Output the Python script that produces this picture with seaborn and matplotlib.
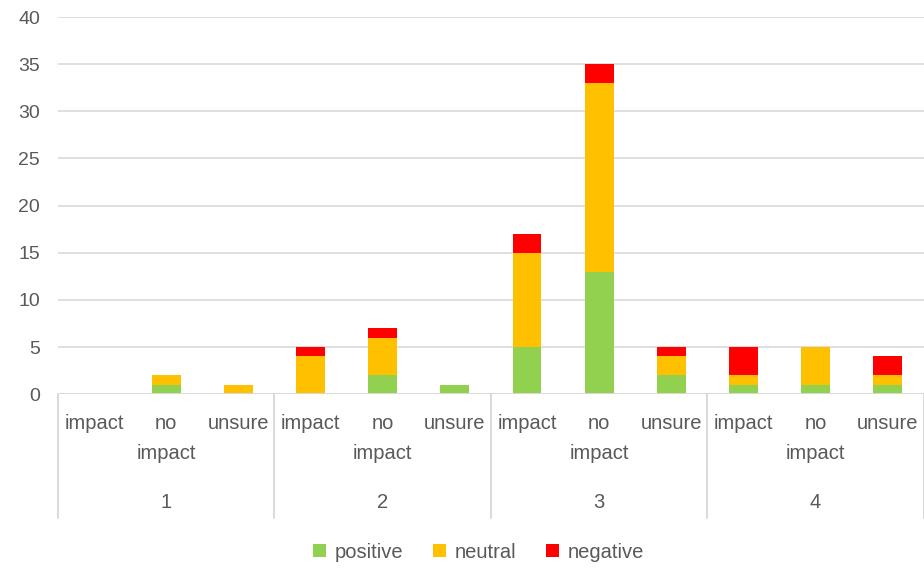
import matplotlib
matplotlib.use("Agg")
import matplotlib.pyplot as plt
import seaborn as sns
import pandas as pd
import numpy as np
from matplotlib.patches import Patch

groups = ["1", "2", "3", "4"]
answers = ["impact", "no\nimpact", "unsure"]
positive = [0, 1, 0, 0, 2, 1, 5, 13, 2, 1, 1, 1]
neutral = [0, 1, 1, 4, 4, 0, 10, 20, 2, 1, 4, 1]
negative = [0, 0, 0, 1, 1, 0, 2, 2, 1, 3, 0, 2]
series_names = ["positive", "neutral", "negative"]
colors = {"positive": "#92d050", "neutral": "#ffc000", "negative": "#ff0000"}

sns.set_theme(style="white")
plt.rcParams["font.family"] = ["Liberation Sans", "DejaVu Sans"]

slots = [f"{g}|{a}" for g in groups for a in answers]
df = pd.DataFrame({"slot": slots, "positive": positive,
                   "neutral": neutral, "negative": negative})
df["top_pos"] = df["positive"]
df["top_neu"] = df["positive"] + df["neutral"]
df["top_neg"] = df["top_neu"] + df["negative"]

fig = plt.figure(figsize=(9.24, 5.68), dpi=100)
ax = fig.add_axes([0.0628, 0.306, 0.937, 0.664])

# stacked bars: draw cumulative totals from the top layer down
for col, name in [("top_neg", "negative"), ("top_neu", "neutral"), ("top_pos", "positive")]:
    sns.barplot(data=df, x="slot", y=col, order=slots, color=colors[name],
                width=0.4, saturation=1, ax=ax, linewidth=0)

grey = "#595959"
ax.set_ylim(0, 40)
ax.set_xlim(-0.5, len(slots) - 0.5)
ax.set_yticks(range(0, 41, 5))
ax.yaxis.grid(True, color="#d9d9d9", linewidth=1.2)
ax.set_axisbelow(True)
for s in ax.spines.values():
    s.set_visible(False)
ax.tick_params(axis="y", length=0, labelsize=14, labelcolor=grey, pad=13)
ax.set_xticks([])
ax.set_xlabel("")
ax.set_ylabel("")
ax.axhline(0, color="#d9d9d9", linewidth=1.4)

# two-level category axis
trans = ax.get_xaxis_transform()
n_ans = len(answers)
for gi, g in enumerate(groups):
    for ai, a in enumerate(answers):
        ax.text(gi * n_ans + ai, -0.053, a, transform=trans, ha="center", va="top",
                fontsize=14.5, color=grey, linespacing=1.7)
    ax.text(gi * n_ans + (n_ans - 1) / 2, -0.262, g, transform=trans, ha="center",
            va="top", fontsize=14.5, color=grey)
for b in range(len(groups) + 1):
    ax.plot([b * n_ans - 0.5] * 2, [0, -0.327], transform=trans, color="#d9d9d9",
            linewidth=1.4, clip_on=False)

handles = [Patch(facecolor=colors[n], edgecolor="none", label=n) for n in series_names]
fig.legend(handles=handles, loc="center", bbox_to_anchor=(0.518, 0.028), ncol=3,
           frameon=False, fontsize=14.5, labelcolor=grey, handlelength=0.65,
           handleheight=0.65, handletextpad=0.4, columnspacing=1.5)

fig.savefig("out.png", dpi=100)
